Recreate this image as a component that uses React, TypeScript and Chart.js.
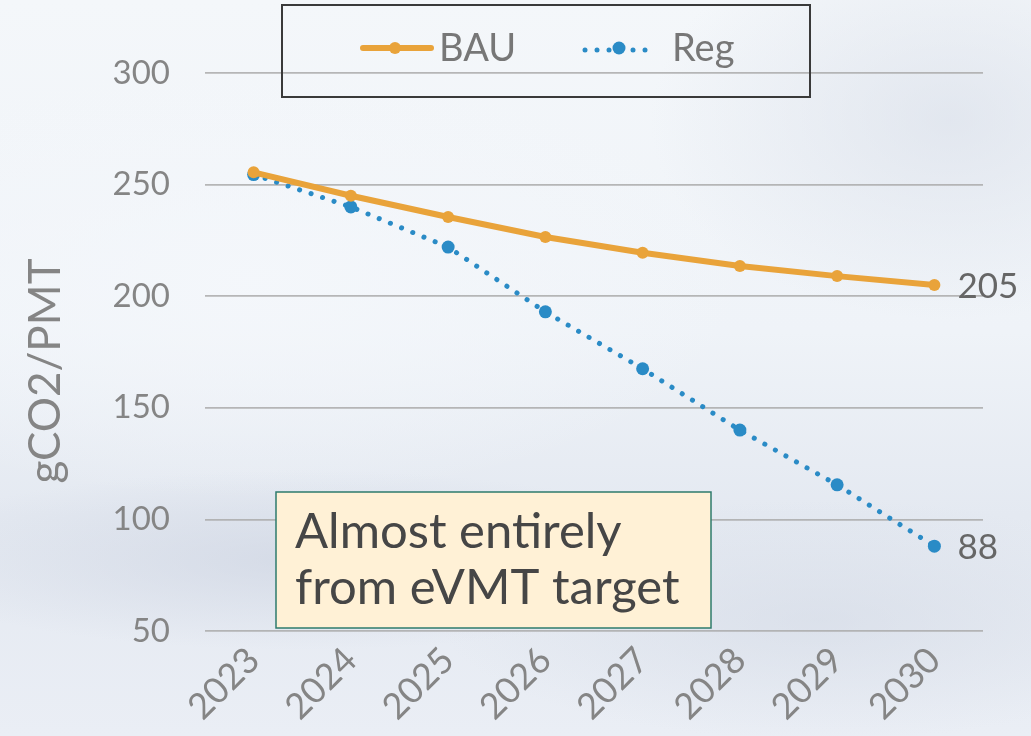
import React, { useEffect, useRef } from "react";
import { Chart, registerables } from "chart.js";

Chart.register(...registerables);

const years = ["2023", "2024", "2025", "2026", "2027", "2028", "2029", "2030"];
const bauValues = [255.5, 245, 235.5, 226.5, 219.5, 213.5, 209, 205];
const regValues = [254.5, 240, 222, 193, 167.5, 140, 115.5, 88];
const yTicks = [50, 100, 150, 200, 250, 300];
const endLabels = ["205", "88"];
const noteLines = ["Almost entirely", "from eVMT target"];
const yTitle = "gCO2/PMT";

const BAU_COLOR = "#E9A33A";
const REG_COLOR = "#2A8BC6";
const FONT = "Lato, 'Open Sans', sans-serif";

const overlayPlugin = {
  id: "overlay",
  afterDatasetsDraw(chart: any) {
    const ctx = chart.ctx;
    // y-axis title
    ctx.save();
    ctx.translate(46, 371);
    ctx.rotate(-Math.PI / 2);
    ctx.font = `44px ${FONT}`;
    ctx.fillStyle = "#858585";
    ctx.textAlign = "center";
    ctx.textBaseline = "middle";
    ctx.fillText(yTitle, 0, 0);
    ctx.restore();

    // end value labels
    chart.data.datasets.forEach((ds: any, i: number) => {
      const meta = chart.getDatasetMeta(i);
      const pt = meta.data[meta.data.length - 1];
      ctx.save();
      ctx.font = `35px ${FONT}`;
      ctx.fillStyle = "#666666";
      ctx.textAlign = "left";
      ctx.textBaseline = "middle";
      ctx.fillText(endLabels[i], pt.x + 23, pt.y + 2);
      ctx.restore();
    });

    // annotation box
    ctx.save();
    const bx = 276, by = 492, bw = 435, bh = 136;
    ctx.fillStyle = "#FFF1D6";
    ctx.fillRect(bx, by, bw, bh);
    ctx.strokeStyle = "#2E7B6C";
    ctx.lineWidth = 1.5;
    ctx.strokeRect(bx, by, bw, bh);
    ctx.font = `49px ${FONT}`;
    ctx.fillStyle = "#464646";
    ctx.textAlign = "left";
    ctx.textBaseline = "alphabetic";
    ctx.fillText(noteLines[0], bx + 19, by + 56);
    ctx.fillText(noteLines[1], bx + 19, by + 112);
    ctx.restore();

    // legend box
    ctx.save();
    ctx.strokeStyle = "#3a3a3a";
    ctx.lineWidth = 2;
    ctx.strokeRect(282, 5, 528, 92);
    const ly = 48;
    // BAU
    ctx.strokeStyle = BAU_COLOR;
    ctx.lineWidth = 6;
    ctx.lineCap = "round";
    ctx.beginPath();
    ctx.moveTo(363, ly);
    ctx.lineTo(431, ly);
    ctx.stroke();
    ctx.fillStyle = BAU_COLOR;
    ctx.beginPath();
    ctx.arc(395, ly, 6, 0, Math.PI * 2);
    ctx.fill();
    ctx.font = `38px ${FONT}`;
    ctx.fillStyle = "#777777";
    ctx.textBaseline = "middle";
    ctx.fillText("BAU", 439, ly + 1);
    // Reg
    ctx.fillStyle = REG_COLOR;
    [585, 597, 609, 633, 645].forEach((x) => {
      ctx.beginPath();
      ctx.arc(x, ly + 2, 2.5, 0, Math.PI * 2);
      ctx.fill();
    });
    ctx.beginPath();
    ctx.arc(619, ly, 6.5, 0, Math.PI * 2);
    ctx.fill();
    ctx.fillStyle = "#777777";
    ctx.fillText("Reg", 672, ly + 1);
    ctx.restore();
  },
};

export default function App() {
  const ref = useRef<HTMLCanvasElement>(null);

  useEffect(() => {
    document.body.style.margin = "0";
    const canvas = ref.current!;
    const chart = new Chart(canvas, {
      type: "line",
      data: {
        labels: years,
        datasets: [
          {
            label: "BAU",
            data: bauValues,
            borderColor: BAU_COLOR,
            backgroundColor: BAU_COLOR,
            borderWidth: 6,
            pointRadius: 6,
            pointBorderWidth: 0,
            tension: 0,
          },
          {
            label: "Reg",
            data: regValues,
            borderColor: REG_COLOR,
            backgroundColor: REG_COLOR,
            borderWidth: 5,
            borderDash: [0.1, 12],
            borderCapStyle: "round",
            pointRadius: 6.5,
            pointBorderWidth: 0,
            tension: 0,
          },
        ],
      },
      options: {
        animation: false,
        responsive: false,
        layout: { padding: { top: 73, right: 48, left: 15, bottom: 0 } },
        plugins: {
          legend: { display: false },
          tooltip: { enabled: false },
        },
        scales: {
          x: {
            offset: true,
            grid: { display: false, drawTicks: false },
            border: { display: false },
            afterFit(scale: any) {
              scale.height = 105;
            },
            ticks: {
              minRotation: 45,
              maxRotation: 45,
              color: "#858585",
              font: { family: FONT, size: 36 },
              padding: 8,
            },
          },
          y: {
            min: 50,
            max: 300,
            afterBuildTicks(scale: any) {
              scale.ticks = yTicks.map((v) => ({ value: v }));
            },
            afterFit(scale: any) {
              scale.width = 190;
            },
            grid: {
              color: "rgba(170,170,170,0.85)",
              lineWidth: 1.8,
              drawTicks: false,
            },
            border: { display: false },
            ticks: {
              color: "#858585",
              font: { family: FONT, size: 33 },
              padding: 35,
            },
            title: { display: false },
          },
        },
      },
      plugins: [overlayPlugin],
    });
    return () => chart.destroy();
  }, []);

  return (
    <div
      style={{
        position: "absolute",
        left: 0,
        top: 0,
        width: 1031,
        height: 736,
        overflow: "hidden",
        background:
          "radial-gradient(ellipse 420px 90px at 300px 560px, rgba(200,207,222,0.55), rgba(200,207,222,0) 100%)," +
          "radial-gradient(ellipse 380px 120px at 820px 620px, rgba(205,212,225,0.45), rgba(205,212,225,0) 100%)," +
          "radial-gradient(ellipse 300px 200px at 950px 120px, rgba(215,221,232,0.6), rgba(215,221,232,0) 100%)," +
          "radial-gradient(ellipse 500px 220px at 250px 280px, rgba(244,247,251,0.95), rgba(244,247,251,0) 100%)," +
          "linear-gradient(180deg, #f4f7fa 0%, #eff3f8 45%, #e4e9f1 70%, #eaeef5 100%)",
      }}
    >
      <canvas ref={ref} width={1031} height={736} style={{ display: "block" }} />
    </div>
  );
}
